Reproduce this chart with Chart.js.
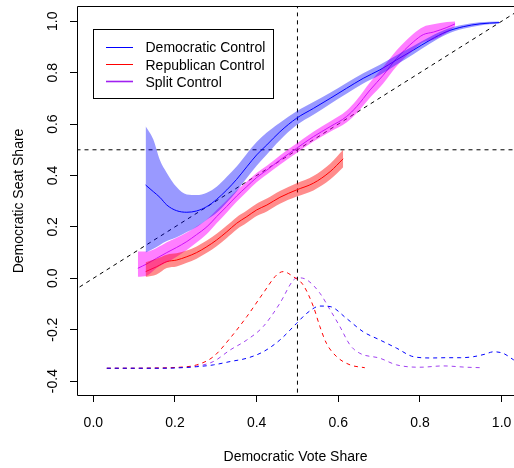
<!DOCTYPE html>
<html>
<head>
<meta charset="utf-8">
<script src="https://cdn.jsdelivr.net/npm/chart.js@4/dist/chart.umd.min.js"></script>
<style>
html, body { margin: 0; padding: 0; background: #fff; }
#wrap { width: 514px; height: 468px; }
</style>
</head>
<body>
<div id="wrap"><canvas id="seatChart"></canvas></div>
<script>
// Democratic control: vote share -> seat share, with band
var demX   = [0.128, 0.147, 0.163, 0.180, 0.204, 0.229, 0.253, 0.278, 0.302, 0.327, 0.351, 0.376, 0.400, 0.425, 0.457, 0.498, 0.539, 0.580, 0.620, 0.661, 0.702, 0.743, 0.784, 0.825, 0.866, 0.906, 0.947, 0.994];
var demMid = [0.363, 0.337, 0.315, 0.285, 0.263, 0.257, 0.262, 0.279, 0.307, 0.344, 0.385, 0.434, 0.480, 0.519, 0.570, 0.623, 0.661, 0.700, 0.739, 0.778, 0.811, 0.850, 0.888, 0.927, 0.960, 0.979, 0.990, 0.995];
var demHi  = [0.592, 0.540, 0.460, 0.410, 0.355, 0.326, 0.324, 0.333, 0.356, 0.395, 0.435, 0.485, 0.530, 0.567, 0.605, 0.650, 0.686, 0.722, 0.760, 0.798, 0.831, 0.868, 0.904, 0.940, 0.970, 0.987, 0.996, 0.999];
var demLo  = [0.100, 0.115, 0.130, 0.145, 0.160, 0.180, 0.200, 0.228, 0.255, 0.295, 0.338, 0.390, 0.438, 0.482, 0.537, 0.596, 0.636, 0.678, 0.718, 0.758, 0.791, 0.832, 0.872, 0.914, 0.950, 0.971, 0.984, 0.991];

// Republican control
var repX   = [0.128, 0.155, 0.180, 0.204, 0.229, 0.253, 0.278, 0.302, 0.327, 0.351, 0.376, 0.400, 0.425, 0.457, 0.498, 0.539, 0.580, 0.612];
var repMid = [0.026, 0.045, 0.065, 0.071, 0.084, 0.100, 0.123, 0.149, 0.181, 0.214, 0.240, 0.266, 0.285, 0.315, 0.344, 0.370, 0.415, 0.465];
var repHi  = [0.062, 0.076, 0.092, 0.097, 0.108, 0.124, 0.147, 0.173, 0.205, 0.238, 0.264, 0.290, 0.310, 0.340, 0.370, 0.398, 0.446, 0.500];
var repLo  = [0.005, 0.015, 0.040, 0.046, 0.060, 0.076, 0.099, 0.125, 0.157, 0.190, 0.216, 0.242, 0.260, 0.290, 0.318, 0.342, 0.384, 0.432];

// Split control
var splitX   = [0.109, 0.131, 0.155, 0.180, 0.204, 0.229, 0.253, 0.278, 0.302, 0.327, 0.351, 0.376, 0.400, 0.425, 0.457, 0.498, 0.539, 0.580, 0.620, 0.645, 0.678, 0.710, 0.743, 0.784, 0.808, 0.833, 0.866, 0.886];
var splitMid = [0.039, 0.056, 0.078, 0.100, 0.120, 0.143, 0.170, 0.200, 0.240, 0.280, 0.320, 0.357, 0.392, 0.421, 0.460, 0.506, 0.551, 0.590, 0.629, 0.668, 0.733, 0.790, 0.856, 0.920, 0.948, 0.958, 0.976, 0.990];
var splitHi  = [0.104, 0.104, 0.118, 0.140, 0.158, 0.178, 0.202, 0.229, 0.266, 0.304, 0.342, 0.377, 0.410, 0.438, 0.478, 0.524, 0.570, 0.610, 0.652, 0.694, 0.763, 0.822, 0.887, 0.952, 0.978, 0.988, 0.997, 0.999];
var splitLo  = [0.006, 0.010, 0.040, 0.062, 0.084, 0.110, 0.139, 0.172, 0.214, 0.256, 0.298, 0.337, 0.374, 0.404, 0.442, 0.488, 0.532, 0.570, 0.606, 0.642, 0.703, 0.758, 0.825, 0.888, 0.918, 0.928, 0.955, 0.981];

// vote share densities (drawn in seat-share units along the bottom)
var densDemX   = [0.033, 0.100, 0.150, 0.200, 0.253, 0.294, 0.335, 0.376, 0.416, 0.457, 0.498, 0.523, 0.555, 0.580, 0.620, 0.661, 0.702, 0.743, 0.784, 0.830, 0.866, 0.900, 0.931, 0.960, 0.980, 1.004, 1.030];
var densDemY   = [-0.350, -0.350, -0.350, -0.349, -0.344, -0.337, -0.324, -0.311, -0.286, -0.240, -0.175, -0.136, -0.108, -0.110, -0.156, -0.208, -0.240, -0.272, -0.305, -0.310, -0.309, -0.309, -0.305, -0.295, -0.286, -0.292, -0.318];
var densRepX   = [0.033, 0.100, 0.150, 0.200, 0.253, 0.294, 0.335, 0.376, 0.416, 0.449, 0.465, 0.490, 0.514, 0.539, 0.555, 0.571, 0.596, 0.629, 0.665];
var densRepY   = [-0.350, -0.350, -0.349, -0.347, -0.337, -0.305, -0.233, -0.149, -0.058, 0.013, 0.026, 0.006, -0.026, -0.110, -0.188, -0.253, -0.305, -0.337, -0.348];
var densSplitX = [0.033, 0.100, 0.150, 0.200, 0.253, 0.294, 0.335, 0.376, 0.416, 0.457, 0.490, 0.502, 0.523, 0.555, 0.580, 0.604, 0.629, 0.653, 0.702, 0.743, 0.800, 0.857, 0.914, 0.951];
var densSplitY = [-0.350, -0.350, -0.350, -0.348, -0.342, -0.324, -0.279, -0.240, -0.188, -0.097, -0.007, 0.002, -0.006, -0.058, -0.123, -0.188, -0.260, -0.292, -0.311, -0.337, -0.346, -0.341, -0.346, -0.348];

var xTicks = [0, 0.2, 0.4, 0.6, 0.8, 1.0];
var yTicks = [-0.4, -0.2, 0, 0.2, 0.4, 0.6, 0.8, 1.0];
var xRange = [-0.04, 1.0304];
var yRange = [-0.4541, 1.0556];
var legendLabels = ["Democratic Control", "Republican Control", "Split Control"];
var xTitle = "Democratic Vote Share";
var yTitle = "Democratic Seat Share";

var FONT = "'Liberation Sans', Arial, Helvetica, sans-serif";
Chart.defaults.font.family = FONT;
Chart.defaults.font.size = 14;
Chart.defaults.color = '#000';

function pts(xs, ys) {
    return xs.map(function (x, i) { return { x: x, y: ys[i] }; });
}

function lineSet(xs, ys, color, dash) {
    return {
        data: pts(xs, ys),
        borderColor: color,
        borderWidth: 1,
        borderDash: dash || [],
        pointRadius: 0,
        fill: false,
        cubicInterpolationMode: 'monotone'
    };
}

function bandSets(xs, lo, hi, color) {
    var a = lineSet(xs, lo, 'rgba(0,0,0,0)');
    a.borderWidth = 0;
    var b = lineSet(xs, hi, 'rgba(0,0,0,0)');
    b.borderWidth = 0;
    b.fill = '-1';
    b.backgroundColor = color;
    return [a, b];
}

var datasets = []
    .concat(bandSets(demX, demLo, demHi, 'rgba(0,0,255,0.4)'))
    .concat(bandSets(repX, repLo, repHi, 'rgba(255,0,0,0.45)'))
    .concat(bandSets(splitX, splitLo, splitHi, 'rgba(255,0,255,0.5)'));
datasets.push(lineSet(demX, demMid, '#0000ff'));
datasets.push(lineSet(repX, repMid, '#ff0000'));
datasets.push(lineSet(splitX, splitMid, '#a020f0'));
datasets.push(lineSet(densDemX, densDemY, '#0000ff', [4, 4]));
datasets.push(lineSet(densRepX, densRepY, '#ff0000', [4, 4]));
datasets.push(lineSet(densSplitX, densSplitY, '#a040f0', [4, 4]));
// reference lines: 45 degree, 0.5 seat share, 0.5 vote share
datasets.push(lineSet([-0.1, 1.1], [-0.1, 1.1], '#000', [4, 4]));
datasets.push(lineSet([-0.1, 1.1], [0.5, 0.5], '#000', [4, 4]));
datasets.push(lineSet([0.5, 0.5], [-0.6, 1.2], '#000', [4, 4]));

var framePlugin = {
    id: 'frame',
    afterDraw: function (chart) {
        var ctx = chart.ctx, a = chart.chartArea;
        var xs = chart.scales.x, ys = chart.scales.y;
        ctx.save();
        ctx.strokeStyle = '#000';
        ctx.lineWidth = 1;
        ctx.beginPath();
        ctx.moveTo(a.right, a.top - 0.5);
        ctx.lineTo(a.left + 0.5, a.top - 0.5);
        ctx.lineTo(a.left + 0.5, a.bottom + 0.5);
        ctx.lineTo(a.right, a.bottom + 0.5);
        ctx.stroke();

        ctx.fillStyle = '#000';
        ctx.font = '14px ' + FONT;
        // x tick labels
        ctx.textAlign = 'center';
        ctx.textBaseline = 'alphabetic';
        xTicks.forEach(function (v) {
            ctx.fillText(v.toFixed(1), xs.getPixelForValue(v), 426.5);
        });
        // rotated y tick labels
        yTicks.forEach(function (v) {
            ctx.save();
            ctx.translate(56.5, ys.getPixelForValue(v));
            ctx.rotate(-Math.PI / 2);
            ctx.fillText(v.toFixed(1), 0, 0);
            ctx.restore();
        });
        // axis titles
        ctx.fillText(xTitle, (a.left + a.right) / 2, 460.5);
        ctx.save();
        ctx.translate(23, (a.top + a.bottom) / 2);
        ctx.rotate(-Math.PI / 2);
        ctx.fillText(yTitle, 0, 0);
        ctx.restore();

        // legend box
        var lx = 93.5, ly = 29.5, lw = 180, lh = 69;
        ctx.fillStyle = '#fff';
        ctx.fillRect(lx, ly, lw, lh);
        ctx.strokeRect(lx, ly, lw, lh);
        var cols = ['#0000ff', '#ff0000', '#a020f0'];
        legendLabels.forEach(function (t, i) {
            var base = 52.3 + i * 17.2;
            var my = Math.round(base - 5.3) + 0.5;
            ctx.strokeStyle = cols[i];
            ctx.lineWidth = i === 2 ? 1.6 : 1;
            ctx.beginPath();
            ctx.moveTo(106, my);
            ctx.lineTo(133, my);
            ctx.stroke();
            ctx.fillStyle = '#000';
            ctx.textAlign = 'left';
            ctx.fillText(t, 145.5, base);
        });
        ctx.restore();
    }
};

var seatChart = new Chart(document.getElementById('seatChart'), {
    type: 'line',
    data: { datasets: datasets },
    options: {
        responsive: true,
        maintainAspectRatio: false,
        animation: false,
        layout: { padding: { top: 7, right: 0, left: 0, bottom: 0 } },
        plugins: {
            legend: { display: false },
            tooltip: { enabled: false }
        },
        scales: {
            x: {
                type: 'linear',
                min: xRange[0],
                max: xRange[1],
                afterBuildTicks: function (s) { s.ticks = xTicks.map(function (v) { return { value: v }; }); },
                afterFit: function (s) { s.height = 73; },
                ticks: { display: false },
                grid: { drawOnChartArea: false, drawTicks: true, tickLength: 7, color: '#000' },
                border: { display: false }
            },
            y: {
                type: 'linear',
                min: yRange[0],
                max: yRange[1],
                afterBuildTicks: function (s) { s.ticks = yTicks.map(function (v) { return { value: v }; }); },
                afterFit: function (s) { s.width = 77; },
                ticks: { display: false },
                grid: { drawOnChartArea: false, drawTicks: true, tickLength: 7, color: '#000' },
                border: { display: false }
            }
        }
    },
    plugins: [framePlugin]
});
</script>
</body>
</html>
